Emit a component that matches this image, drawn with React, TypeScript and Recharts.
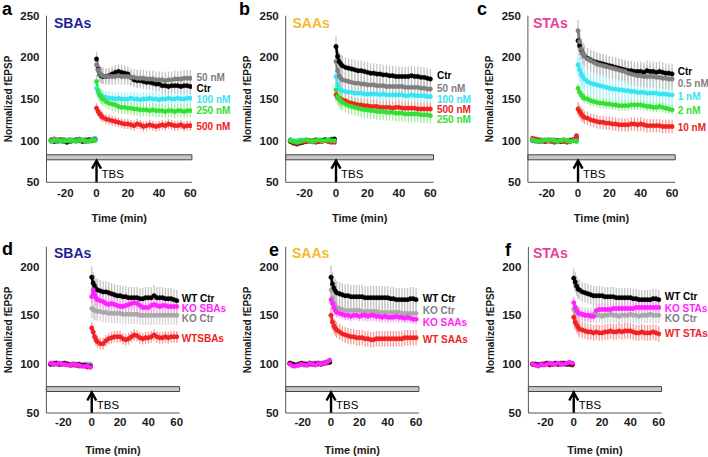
import React from "react";
import {
  ComposedChart,
  Line,
  XAxis,
  YAxis,
  ErrorBar,
  ReferenceArea,
  ReferenceLine,
  ReferenceDot,
} from "recharts";

const FONT = "'Liberation Sans', Arial, Helvetica, sans-serif";

// sampling times (min)
const baseTimes = [-29, -27, -25, -23, -21, -19, -17, -15, -13, -11, -9, -7, -5, -3, -1];
const postTimes = [0, 1, 2, 3, 4, 6, 8, 10, 12, 14, 16, 18, 20, 22, 24, 26, 28, 30, 32, 34, 36, 38, 40, 42, 44, 46, 48, 50, 52, 54, 56, 58, 60];
const xTicks = [-20, 0, 20, 40, 60];
const yTicksTop = [50, 100, 150, 200, 250];
const yTicksBottom = [50, 100, 150, 200];

// a: SBAs dose
const aCtrBase = [100, 99, 100, 101, 99, 98, 99, 100, 101, 100, 99, 100, 101, 100, 101];
const aCtr = [198, 186, 180, 178, 177, 177, 178, 180, 182, 183, 182, 181, 180, 176, 173, 172, 172, 171, 170, 170, 169, 168, 168, 166, 166, 165, 166, 166, 166, 165, 166, 166, 165];
const a50Base = [101, 100, 99, 100, 101, 100, 99, 100, 101, 102, 100, 99, 100, 101, 102];
const a50 = [191, 185, 181, 179, 178, 177, 177, 177, 177, 178, 177, 177, 177, 176, 176, 175, 175, 175, 174, 174, 174, 173, 173, 173, 172, 173, 173, 174, 174, 174, 175, 175, 175];
const a100Base = [100, 101, 100, 99, 100, 101, 100, 101, 100, 101, 100, 100, 101, 102, 103];
const a100 = [163, 158, 155, 154, 153, 152, 151, 151, 150, 151, 150, 150, 150, 151, 150, 150, 149, 150, 150, 151, 150, 150, 149, 150, 150, 151, 150, 150, 151, 150, 150, 151, 151];
const a250Base = [99, 100, 101, 100, 99, 100, 101, 100, 99, 100, 101, 100, 99, 100, 100];
const a250 = [171, 160, 155, 152, 150, 147, 145, 144, 143, 141, 140, 140, 139, 139, 138, 138, 137, 137, 137, 136, 137, 136, 136, 136, 135, 136, 136, 135, 136, 136, 135, 136, 136];
const a500Base = [101, 102, 101, 100, 101, 100, 101, 100, 100, 101, 100, 101, 100, 100, 101];
const a500 = [139, 135, 132, 130, 128, 126, 125, 124, 123, 122, 121, 120, 120, 119, 118, 120, 119, 117, 118, 119, 118, 117, 118, 119, 118, 120, 119, 118, 118, 119, 117, 118, 118];

// b: SAAs dose
const bCtrBase = [99, 97, 96, 97, 98, 99, 100, 99, 100, 99, 100, 101, 100, 101, 102];
const bCtr = [213, 201, 195, 192, 190, 188, 187, 186, 185, 184, 184, 183, 182, 181, 181, 180, 180, 179, 179, 178, 178, 177, 177, 177, 177, 177, 178, 177, 177, 176, 176, 175, 174];
const b50Base = [100, 99, 98, 99, 100, 100, 99, 100, 101, 100, 100, 101, 100, 100, 101];
const b50 = [195, 184, 178, 175, 173, 172, 171, 170, 169, 169, 168, 168, 167, 167, 167, 166, 166, 166, 165, 165, 165, 165, 165, 165, 164, 164, 164, 164, 164, 163, 163, 162, 162];
const b100Base = [101, 100, 100, 101, 100, 101, 100, 100, 101, 100, 101, 100, 101, 102, 101];
const b100 = [177, 167, 163, 161, 160, 159, 158, 158, 157, 157, 157, 156, 156, 156, 156, 156, 155, 156, 155, 155, 155, 155, 155, 155, 154, 154, 155, 154, 154, 154, 154, 153, 153];
const b500Base = [100, 98, 97, 98, 99, 99, 100, 99, 98, 99, 99, 100, 99, 98, 98];
const b500 = [155, 152, 151, 150, 149, 148, 146, 145, 144, 143, 143, 142, 142, 141, 141, 141, 140, 140, 140, 140, 139, 140, 140, 139, 139, 139, 139, 139, 138, 138, 138, 138, 138];
const b250Base = [100, 99, 98, 99, 100, 101, 100, 99, 100, 101, 100, 100, 101, 100, 100];
const b250 = [161, 153, 150, 148, 146, 144, 142, 141, 140, 139, 138, 137, 137, 136, 136, 135, 135, 135, 134, 134, 134, 133, 133, 133, 132, 132, 132, 132, 132, 131, 131, 131, 130];

// c: STAs dose
const cCtrBase = [101, 100, 99, 100, 99, 100, 100, 99, 100, 99, 100, 99, 100, 101, 103];
const cCtr = [220, 214, 209, 205, 202, 199, 197, 195, 194, 193, 192, 191, 190, 189, 188, 187, 186, 185, 184, 184, 183, 183, 183, 182, 184, 183, 183, 182, 183, 182, 181, 181, 180];
const c05Base = [100, 101, 100, 99, 100, 101, 100, 100, 99, 100, 101, 100, 99, 100, 102];
const c05 = [232, 219, 210, 205, 202, 198, 196, 194, 192, 191, 190, 189, 188, 187, 186, 185, 184, 183, 181, 180, 179, 178, 178, 177, 177, 177, 177, 176, 176, 175, 175, 174, 174];
const c1Base = [100, 99, 100, 101, 100, 99, 100, 101, 100, 99, 100, 100, 101, 100, 100];
const c1 = [191, 185, 180, 177, 174, 171, 169, 168, 167, 166, 165, 164, 163, 162, 162, 161, 161, 160, 160, 159, 159, 158, 158, 158, 157, 157, 157, 157, 156, 156, 156, 155, 155];
const c2Base = [101, 100, 99, 100, 101, 100, 101, 100, 99, 100, 101, 100, 99, 100, 99];
const c2 = [163, 158, 155, 153, 151, 150, 148, 147, 146, 145, 145, 144, 144, 143, 143, 142, 142, 142, 142, 143, 143, 143, 143, 142, 141, 141, 140, 140, 141, 140, 139, 138, 137];
const c10Base = [103, 102, 101, 100, 99, 100, 99, 98, 99, 100, 99, 98, 99, 101, 106];
const c10 = [138, 135, 132, 130, 128, 127, 125, 124, 123, 122, 122, 121, 121, 120, 120, 119, 119, 119, 119, 120, 120, 119, 120, 119, 118, 118, 118, 118, 118, 117, 117, 117, 117];

// d: SBAs WT / KO
const dWtCtrBase = [100, 100, 101, 100, 100, 101, 100, 99, 100, 99, 100, 99, 99, 98, 98];
const dWtCtr = [189, 183, 180, 177, 176, 175, 174, 174, 173, 172, 171, 170, 170, 169, 169, 168, 168, 168, 168, 167, 167, 168, 168, 168, 170, 168, 168, 168, 167, 167, 167, 166, 165];
const dKoSbaBase = [101, 100, 100, 101, 100, 100, 99, 99, 100, 99, 99, 98, 98, 98, 97];
const dKoSba = [169, 176, 171, 168, 166, 165, 164, 162, 161, 162, 161, 160, 159, 159, 160, 161, 162, 163, 162, 160, 158, 158, 158, 160, 161, 160, 159, 160, 160, 159, 159, 159, 159];
const dKoCtrBase = [100, 101, 100, 100, 101, 100, 100, 99, 100, 100, 99, 99, 100, 100, 100];
const dKoCtr = [157, 156, 155, 155, 154, 154, 153, 153, 152, 152, 152, 152, 152, 151, 151, 151, 151, 151, 151, 150, 150, 150, 150, 150, 150, 150, 150, 150, 150, 150, 150, 150, 150];
const dWtSbaBase = [100, 101, 101, 100, 100, 100, 100, 99, 99, 99, 98, 98, 98, 97, 97];
const dWtSba = [137, 133, 128, 125, 123, 121, 121, 124, 126, 127, 128, 128, 128, 126, 125, 126, 128, 130, 129, 127, 126, 127, 127, 128, 130, 128, 127, 127, 128, 127, 128, 128, 128];

// e: SAAs WT / KO
const eWtCtrBase = [101, 100, 99, 100, 101, 100, 100, 101, 100, 100, 101, 100, 101, 102, 102];
const eWtCtr = [189, 182, 178, 175, 173, 172, 171, 170, 170, 169, 169, 169, 169, 169, 168, 168, 168, 168, 168, 168, 168, 168, 168, 167, 167, 166, 166, 166, 166, 166, 167, 167, 166];
const eKoCtrBase = [100, 100, 99, 100, 100, 101, 100, 100, 101, 100, 101, 101, 101, 102, 103];
const eKoCtr = [176, 168, 163, 160, 158, 157, 156, 155, 155, 155, 155, 155, 155, 154, 154, 154, 154, 154, 154, 153, 153, 153, 153, 153, 153, 153, 153, 152, 152, 152, 152, 152, 152];
const eKoSaaBase = [100, 98, 98, 99, 100, 99, 99, 101, 100, 99, 101, 100, 101, 102, 104];
const eKoSaa = [166, 162, 158, 155, 153, 152, 151, 150, 150, 149, 150, 150, 149, 150, 150, 149, 150, 150, 149, 149, 148, 149, 148, 148, 148, 149, 148, 148, 147, 148, 147, 146, 146];
const eWtSaaBase = [101, 100, 99, 99, 100, 100, 99, 100, 100, 101, 100, 100, 101, 101, 102];
const eWtSaa = [150, 143, 139, 137, 135, 133, 131, 130, 129, 128, 128, 127, 127, 127, 126, 126, 125, 125, 126, 126, 126, 126, 126, 126, 126, 126, 126, 126, 127, 127, 127, 127, 127];

// f: STAs WT / KO
const fWtCtrBase = [100, 100, 99, 100, 100, 101, 100, 100, 101, 100, 100, 101, 100, 100, 100];
const fWtCtr = [188, 184, 180, 177, 176, 174, 173, 172, 171, 170, 170, 170, 170, 169, 169, 169, 169, 168, 168, 168, 168, 168, 168, 167, 167, 166, 166, 166, 166, 166, 167, 167, 166];
const fKoStaBase = [100, 99, 98, 100, 99, 100, 101, 100, 100, 101, 100, 100, 101, 102, 101];
const fKoSta = [163, 158, 155, 153, 152, 151, 150, 150, 149, 149, 155, 156, 156, 156, 156, 156, 157, 157, 157, 157, 157, 157, 157, 157, 158, 158, 158, 158, 158, 158, 158, 158, 158];
const fKoCtrBase = [100, 100, 100, 99, 100, 100, 101, 100, 100, 100, 101, 100, 100, 101, 100];
const fKoCtr = [156, 154, 153, 152, 151, 151, 150, 150, 150, 151, 150, 150, 149, 150, 150, 151, 150, 150, 149, 150, 150, 150, 151, 150, 150, 149, 150, 150, 150, 151, 150, 150, 150];
const fWtStaBase = [100, 99, 99, 100, 100, 100, 99, 100, 100, 100, 101, 100, 100, 100, 99];
const fWtSta = [148, 143, 140, 138, 136, 135, 134, 133, 133, 132, 133, 132, 132, 133, 133, 134, 133, 133, 134, 133, 134, 134, 134, 133, 132, 132, 133, 132, 132, 132, 133, 132, 131];

const BLACK = "#000000";
const GRAY = "#7f7f7f";
const LIGHTGRAY = "#a9a9a9";
const CYAN = "#38e4f2";
const GREEN = "#33e033";
const RED = "#f02222";
const MAGENTA = "#ff22ff";

const ERR: Record<string, string> = {
  [BLACK]: "#c4c4c4",
  [GRAY]: "#c4c4c4",
  [LIGHTGRAY]: "#d6d6d6",
  [CYAN]: "#a6f2f8",
  [GREEN]: "#9cee9c",
  [RED]: "#f79a9a",
  [MAGENTA]: "#f7a3f7",
};

type Series = { id: string; color: string; base: number[]; post: number[]; sem: number };
type Tag = { text: string; color: string; y: number };
type Panel = {
  letter: string;
  letterX: number;
  letterY: number;
  title: string;
  titleColor: string;
  titleX: number;
  titleY: number;
  left: number;
  right: number;
  top: number;
  bottom: number;
  height: number;
  xMax: number;
  yMax: number;
  yTicks: number[];
  bar: [number, number];
  arrowTip: number;
  tickGap: number;
  xTitleY: number;
  tagX: number;
  series: Series[];
  tags: Tag[];
};

const topRow = { top: 15.7, bottom: 182.3, height: 228, yMax: 250, yTicks: yTicksTop, bar: [77, 83] as [number, number], arrowTip: 76, tickGap: 5, xTitleY: 222 };
const bottomRow = { top: 18.9, bottom: 185, height: 229, yMax: 220, yTicks: yTicksBottom, bar: [72, 77] as [number, number], arrowTip: 71, tickGap: 2.5, xTitleY: 225.5 };

const panels: Panel[] = [
  {
    ...topRow, letter: "a", letterX: 2, letterY: 15, title: "SBAs", titleColor: "#1e1e9c", titleX: 54, titleY: 28,
    left: 46.5, right: 191.9, xMax: 61, tagX: 196.5,
    series: [
      { id: "r", color: RED, base: a500Base, post: a500, sem: 6 },
      { id: "c", color: CYAN, base: a100Base, post: a100, sem: 8 },
      { id: "k", color: BLACK, base: aCtrBase, post: aCtr, sem: 9 },
      { id: "g", color: GRAY, base: a50Base, post: a50, sem: 10 },
      { id: "n", color: GREEN, base: a250Base, post: a250, sem: 8 },
    ],
    tags: [
      { text: "50 nM", color: GRAY, y: 77.3 },
      { text: "Ctr", color: BLACK, y: 88.3 },
      { text: "100 nM", color: CYAN, y: 99 },
      { text: "250 nM", color: GREEN, y: 110.7 },
      { text: "500 nM", color: RED, y: 126.7 },
    ],
  },
  {
    ...topRow, letter: "b", letterX: 3, letterY: 15, title: "SAAs", titleColor: "#f5b82e", titleX: 56.5, titleY: 28,
    left: 49.7, right: 197.5, xMax: 62, tagX: 201,
    series: [
      { id: "c", color: CYAN, base: b100Base, post: b100, sem: 8 },
      { id: "g", color: GRAY, base: b50Base, post: b50, sem: 10 },
      { id: "k", color: BLACK, base: bCtrBase, post: bCtr, sem: 12 },
      { id: "r", color: RED, base: b500Base, post: b500, sem: 8 },
      { id: "n", color: GREEN, base: b250Base, post: b250, sem: 10 },
    ],
    tags: [
      { text: "Ctr", color: BLACK, y: 75 },
      { text: "50 nM", color: GRAY, y: 88.7 },
      { text: "100 nM", color: CYAN, y: 99 },
      { text: "500 nM", color: RED, y: 109 },
      { text: "250 nM", color: GREEN, y: 119 },
    ],
  },
  {
    ...topRow, letter: "c", letterX: 5, letterY: 15, title: "STAs", titleColor: "#e6409a", titleX: 61, titleY: 28,
    left: 55.9, right: 203.2, xMax: 62, tagX: 205.7,
    series: [
      { id: "c", color: CYAN, base: c1Base, post: c1, sem: 15 },
      { id: "k", color: BLACK, base: cCtrBase, post: cCtr, sem: 12 },
      { id: "g", color: GRAY, base: c05Base, post: c05, sem: 13 },
      { id: "r", color: RED, base: c10Base, post: c10, sem: 8 },
      { id: "n", color: GREEN, base: c2Base, post: c2, sem: 6 },
    ],
    tags: [
      { text: "Ctr", color: BLACK, y: 71 },
      { text: "0.5 nM", color: GRAY, y: 83.3 },
      { text: "1 nM", color: CYAN, y: 96.7 },
      { text: "2 nM", color: GREEN, y: 110 },
      { text: "10 nM", color: RED, y: 127.7 },
    ],
  },
  {
    ...bottomRow, letter: "d", letterX: 2, letterY: 26.5, title: "SBAs", titleColor: "#1e1e9c", titleX: 54, titleY: 30,
    left: 46.4, right: 179.6, xMax: 62, tagX: 181.7,
    series: [
      { id: "g", color: LIGHTGRAY, base: dKoCtrBase, post: dKoCtr, sem: 10 },
      { id: "r", color: RED, base: dWtSbaBase, post: dWtSba, sem: 6 },
      { id: "k", color: BLACK, base: dWtCtrBase, post: dWtCtr, sem: 11 },
      { id: "m", color: MAGENTA, base: dKoSbaBase, post: dKoSba, sem: 8 },
    ],
    tags: [
      { text: "WT Ctr", color: BLACK, y: 70 },
      { text: "KO SBAs", color: MAGENTA, y: 80 },
      { text: "KO Ctr", color: GRAY, y: 90 },
      { text: "WTSBAs", color: RED, y: 110 },
    ],
  },
  {
    ...bottomRow, letter: "e", letterX: 33, letterY: 28.3, title: "SAAs", titleColor: "#f5b82e", titleX: 56, titleY: 30,
    left: 49.7, right: 182.9, xMax: 62, tagX: 186.7,
    series: [
      { id: "g", color: LIGHTGRAY, base: eKoCtrBase, post: eKoCtr, sem: 10 },
      { id: "r", color: RED, base: eWtSaaBase, post: eWtSaa, sem: 8 },
      { id: "k", color: BLACK, base: eWtCtrBase, post: eWtCtr, sem: 12 },
      { id: "m", color: MAGENTA, base: eKoSaaBase, post: eKoSaa, sem: 5 },
    ],
    tags: [
      { text: "WT Ctr", color: BLACK, y: 70.7 },
      { text: "KO Ctr", color: GRAY, y: 82.7 },
      { text: "KO SAAs", color: MAGENTA, y: 94.3 },
      { text: "WT SAAs", color: RED, y: 111 },
    ],
  },
  {
    ...bottomRow, letter: "f", letterX: 33, letterY: 28, title: "STAs", titleColor: "#e6409a", titleX: 61, titleY: 30,
    left: 56.4, right: 189.6, xMax: 62, tagX: 192.7,
    series: [
      { id: "g", color: LIGHTGRAY, base: fKoCtrBase, post: fKoCtr, sem: 8 },
      { id: "r", color: RED, base: fWtStaBase, post: fWtSta, sem: 8 },
      { id: "k", color: BLACK, base: fWtCtrBase, post: fWtCtr, sem: 10 },
      { id: "m", color: MAGENTA, base: fKoStaBase, post: fKoSta, sem: 6 },
    ],
    tags: [
      { text: "WT Ctr", color: BLACK, y: 68.3 },
      { text: "KO STAs", color: MAGENTA, y: 80 },
      { text: "KO Ctr", color: GRAY, y: 90 },
      { text: "WT STAs", color: RED, y: 105 },
    ],
  },
];

function buildRows(series: Series[]) {
  const rows: Record<string, number>[] = [];
  baseTimes.forEach((t, i) => {
    const row: Record<string, number> = { t };
    series.forEach((s) => {
      row[s.id] = s.base[i];
      row[s.id + "E"] = 2;
    });
    rows.push(row);
  });
  rows.push({ t: -0.5 }); // break between baseline and post-TBS
  postTimes.forEach((t, i) => {
    const row: Record<string, number> = { t };
    series.forEach((s) => {
      row[s.id] = s.post[i];
      row[s.id + "E"] = s.sem;
    });
    rows.push(row);
  });
  return rows;
}

const axisTick = { fontSize: 11.5, fontWeight: "bold" as const, fill: "#1a1a1a", fontFamily: FONT };

function Arrow(props: any) {
  const { cx, cy } = props;
  return (
    <path
      d={`M${cx - 4.5},${cy + 8}L${cx},${cy}L${cx + 4.5},${cy + 8}`}
      stroke="#000"
      strokeWidth={2.4}
      fill="none"
    />
  );
}

function PanelChart({ p, x, y }: { p: Panel; x: number; y: number }) {
  const rows = buildRows(p.series);
  const x0 = p.left + (32 / (p.xMax + 32)) * (p.right - p.left);
  return (
    <div style={{ position: "absolute", left: x, top: y, width: 236, height: p.height }}>
      <ComposedChart
        width={236}
        height={p.height}
        data={rows}
        margin={{ top: p.top, right: 236 - p.right, left: p.left - 40, bottom: p.height - p.bottom - 24 }}
      >
        <XAxis
          type="number"
          dataKey="t"
          domain={[-32, p.xMax]}
          ticks={xTicks}
          height={24}
          tickLine={false}
          tickSize={p.tickGap}
          tickMargin={2}
          axisLine={{ stroke: "#555" }}
          tick={axisTick}
          allowDataOverflow
        />
        <YAxis
          type="number"
          domain={[50, p.yMax]}
          ticks={p.yTicks}
          width={40}
          tickLine={false}
          tickSize={5}
          tickMargin={2}
          axisLine={{ stroke: "#555" }}
          tick={axisTick}
          allowDataOverflow
        />
        <ReferenceArea
          x1={-32}
          x2={p.xMax}
          y1={p.bar[0]}
          y2={p.bar[1]}
          fill="#c8c8c8"
          fillOpacity={1}
          stroke="#444"
          strokeWidth={1}
        />
        <ReferenceLine
          segment={[
            { x: 0, y: 50 },
            { x: 0, y: p.arrowTip },
          ]}
          stroke="#000"
          strokeWidth={2.4}
        />
        <ReferenceDot x={0} y={p.arrowTip} r={0} shape={Arrow} />
        {p.series.map((s) => (
          <Line
            key={s.id}
            dataKey={s.id}
            type="linear"
            stroke={s.color}
            strokeWidth={2.5}
            dot={{ r: 2.2, fill: s.color, stroke: s.color, strokeWidth: 0.5 }}
            activeDot={false}
            isAnimationActive={false}
          >
            <ErrorBar dataKey={s.id + "E"} width={0} stroke={ERR[s.color]} strokeWidth={1.3} direction="y" isAnimationActive={false} />
          </Line>
        ))}
      </ComposedChart>
      <svg
        width={236}
        height={p.height}
        style={{ position: "absolute", left: 0, top: 0, pointerEvents: "none" }}
        fontFamily={FONT}
      >
        <text x={p.letterX} y={p.letterY} fontSize={18} fontWeight="bold" fill="#000">
          {p.letter}
        </text>
        <text x={p.titleX} y={p.titleY} fontSize={14} fontWeight="bold" fill={p.titleColor}>
          {p.title}
        </text>
        <text
          x={p.left - 38}
          y={(p.top + p.bottom) / 2}
          transform={`rotate(-90 ${p.left - 38} ${(p.top + p.bottom) / 2})`}
          textAnchor="middle"
          dy="0.35em"
          fontSize={10}
          fontWeight="bold"
          fill="#1a1a1a"
        >
          Normalized fEPSP
        </text>
        <text x={(p.left + p.right) / 2} y={p.xTitleY} textAnchor="middle" fontSize={11} fontWeight="bold" fill="#1a1a1a">
          Time (min)
        </text>
        <text x={x0 + 5} y={p.bottom - 4.5} fontSize={11.5} fill="#000">
          TBS
        </text>
        {p.tags.map((t) => (
          <text key={t.text} x={p.tagX} y={t.y} dy="0.35em" fontSize={10} fontWeight="bold" fill={t.color}>
            {t.text}
          </text>
        ))}
      </svg>
    </div>
  );
}

export default function App() {
  return (
    <div style={{ position: "absolute", left: 0, top: 0, width: 708, height: 457, background: "#fff" }}>
      {panels.map((p, i) => (
        <PanelChart key={p.letter} p={p} x={(i % 3) * 236} y={i < 3 ? 0 : 228} />
      ))}
    </div>
  );
}
